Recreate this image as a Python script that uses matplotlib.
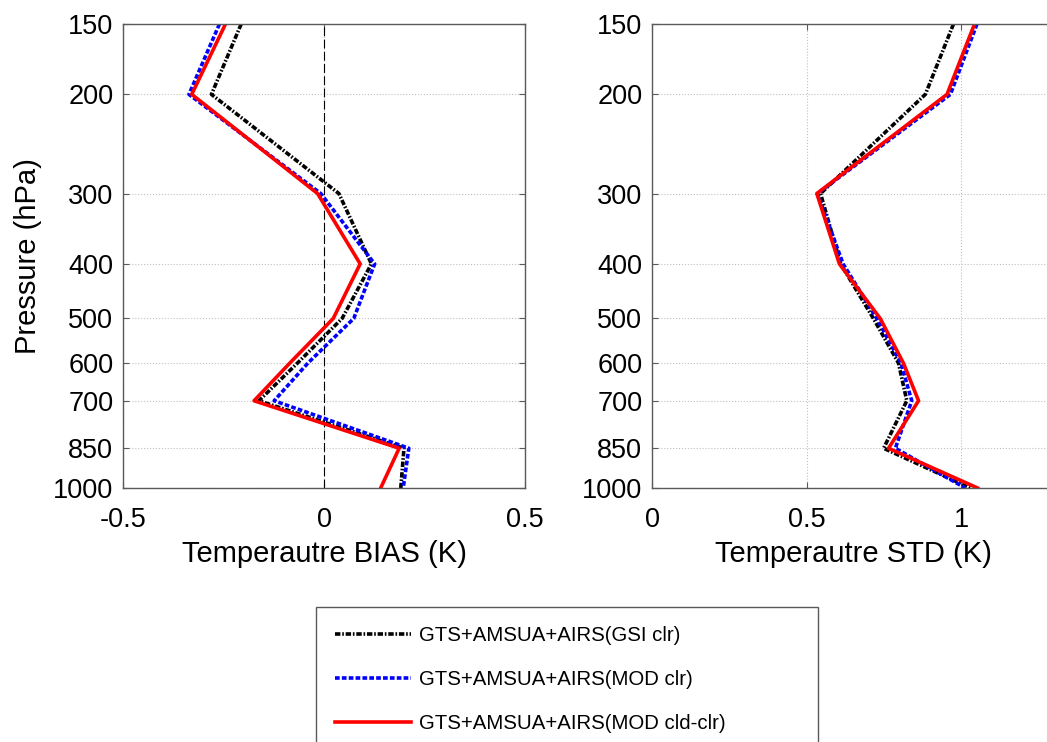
import matplotlib
matplotlib.use("Agg")
import matplotlib.pyplot as plt

plt.rcParams['font.family'] = ['Liberation Sans', 'DejaVu Sans']
plt.rcParams['axes.unicode_minus'] = False

# pressure levels (hPa)
levels = [150, 200, 300, 400, 500, 600, 700, 850, 1000]
level_labels = ['150', '200', '300', '400', '500', '600', '700', '850', '1000']

# temperature bias (K)
bias_gsi_clr = [-0.206, -0.280, 0.037, 0.118, 0.045, -0.066, -0.162, 0.199, 0.191]
bias_mod_clr = [-0.260, -0.336, -0.008, 0.126, 0.074, -0.040, -0.124, 0.211, 0.197]
bias_mod_cld = [-0.245, -0.329, -0.016, 0.090, 0.023, -0.085, -0.174, 0.187, 0.141]

# temperature std (K)
std_gsi_clr = [0.975, 0.884, 0.545, 0.610, 0.716, 0.797, 0.824, 0.749, 1.030]
std_mod_clr = [1.051, 0.965, 0.535, 0.618, 0.727, 0.805, 0.840, 0.787, 1.013]
std_mod_cld = [1.043, 0.954, 0.533, 0.606, 0.738, 0.813, 0.862, 0.765, 1.053]

names = ['GTS+AMSUA+AIRS(GSI clr)', 'GTS+AMSUA+AIRS(MOD clr)',
         'GTS+AMSUA+AIRS(MOD cld-clr)']

spine_col = '#5a5a5a'
styles = [dict(color='k', lw=2.6, ls=(0, (1.5, 0.5, 0.45, 0.5))),
          dict(color='#0000ff', lw=2.6, ls=(0, (1.3, 0.6))),
          dict(color='#ff0000', lw=2.6, ls='-')]

fig = plt.figure(figsize=(10.47, 7.42), dpi=100)
ax1 = fig.add_axes([123 / 1047, 1 - 488 / 742, 402 / 1047, 464 / 742])
ax2 = fig.add_axes([652 / 1047, 1 - 488 / 742, 402 / 1047, 464 / 742])


def style_axes(ax):
    ax.set_yscale('log')
    ax.set_ylim(1000, 150)
    ax.set_yticks(levels)
    ax.set_yticklabels(level_labels)
    ax.yaxis.set_minor_locator(matplotlib.ticker.NullLocator())
    ax.grid(True, ls=':', color='#c0c0c0', lw=0.8)
    ax.set_axisbelow(True)
    for s in ax.spines.values():
        s.set_color(spine_col)
        s.set_linewidth(1.0)
    ax.tick_params(direction='in', top=True, right=True, length=4,
                   width=0.8, color=spine_col, labelsize=19.5)
    ax.tick_params(axis='x', pad=14)
    ax.tick_params(axis='y', pad=7)


lines = []
for vals, st in zip([bias_gsi_clr, bias_mod_clr, bias_mod_cld], styles):
    ax1.plot(vals, levels, **st)
ax1.axvline(0, color='k', lw=0.8, ls=(0, (8, 3)), zorder=1.5)
style_axes(ax1)
ax1.set_xlim(-0.5, 0.5)
ax1.set_xticks([-0.5, 0, 0.5])
ax1.set_xticklabels(['-0.5', '0', '0.5'])
ax1.set_xlabel('Temperautre BIAS (K)', fontsize=21, labelpad=5)
ax1.set_ylabel('Pressure (hPa)', fontsize=21, labelpad=8)

for vals, st, nm in zip([std_gsi_clr, std_mod_clr, std_mod_cld], styles, names):
    ln, = ax2.plot(vals, levels, label=nm, **st)
    lines.append(ln)
style_axes(ax2)
ax2.set_xlim(0, 1.3)
ax2.set_xticks([0, 0.5, 1])
ax2.set_xticklabels(['0', '0.5', '1'])
ax2.set_xlabel('Temperautre STD (K)', fontsize=21, labelpad=5)

leg = fig.legend(handles=lines, loc='upper left', mode='expand',
                 bbox_to_anchor=(316 / 1047, 1 - 607 / 742 - 0.01, 502 / 1047, 0.01),
                 fontsize=14.7, handlelength=3.7, handletextpad=0.4,
                 borderpad=0.95, labelspacing=1.22, borderaxespad=0,
                 fancybox=False, framealpha=1)
leg.get_frame().set_edgecolor(spine_col)
leg.get_frame().set_linewidth(1.0)

fig.savefig('out.png', dpi=100)
